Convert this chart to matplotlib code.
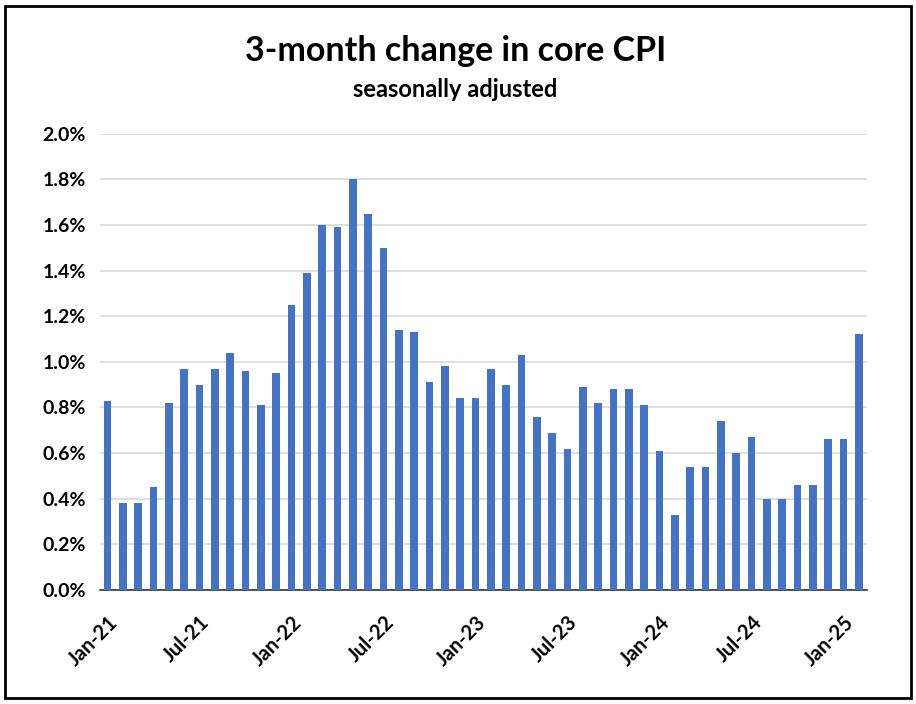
import numpy as np
import matplotlib.pyplot as plt
from matplotlib.patches import Rectangle

# Data: 3-month change in core CPI, Jan-21 .. Feb-25 (percent)
months = ['Jan-21', 'Feb-21', 'Mar-21', 'Apr-21', 'May-21', 'Jun-21', 'Jul-21', 'Aug-21',
          'Sep-21', 'Oct-21', 'Nov-21', 'Dec-21', 'Jan-22', 'Feb-22', 'Mar-22', 'Apr-22',
          'May-22', 'Jun-22', 'Jul-22', 'Aug-22', 'Sep-22', 'Oct-22', 'Nov-22', 'Dec-22',
          'Jan-23', 'Feb-23', 'Mar-23', 'Apr-23', 'May-23', 'Jun-23', 'Jul-23', 'Aug-23',
          'Sep-23', 'Oct-23', 'Nov-23', 'Dec-23', 'Jan-24', 'Feb-24', 'Mar-24', 'Apr-24',
          'May-24', 'Jun-24', 'Jul-24', 'Aug-24', 'Sep-24', 'Oct-24', 'Nov-24', 'Dec-24',
          'Jan-25', 'Feb-25']
values = [0.83, 0.38, 0.38, 0.45, 0.82, 0.97, 0.90, 0.97, 1.04, 0.96, 0.81, 0.95,
          1.25, 1.39, 1.60, 1.59, 1.80, 1.65, 1.50, 1.14, 1.13, 0.91, 0.98, 0.84,
          0.84, 0.97, 0.90, 1.03, 0.76, 0.69, 0.62, 0.89, 0.82, 0.88, 0.88, 0.81,
          0.61, 0.33, 0.54, 0.54, 0.74, 0.60, 0.67, 0.40, 0.40, 0.46, 0.46, 0.66,
          0.66, 1.12]
yticks = [0.0, 0.2, 0.4, 0.6, 0.8, 1.0, 1.2, 1.4, 1.6, 1.8, 2.0]

plt.rcParams['font.family'] = ['Lato', 'DejaVu Sans']

fig = plt.figure(figsize=(9.16, 7.04), dpi=100)
ax = fig.add_axes([0.109, 0.162, 0.837, 0.648])

x = np.arange(len(values))
ax.bar(x, values, width=0.5, color='#4472C4', zorder=3)

ax.set_ylim(0, 2.0)
ax.set_yticks(yticks)
ax.set_yticklabels(['%.1f%%' % v for v in yticks], fontsize=14, fontweight='bold')
ax.set_xlim(-0.5, len(values) - 0.5)

lab_idx = list(range(0, len(values), 6))
ax.set_xticks(lab_idx)
ax.set_xticklabels([months[i] for i in lab_idx], rotation=45, ha='right',
                   rotation_mode='anchor', fontsize=14.5, fontweight='bold')

ax.grid(axis='y', color='#D9D9D9', linewidth=1.2, zorder=0)
ax.tick_params(axis='y', length=0, pad=10)
ax.tick_params(axis='x', length=0, pad=16)
for s in ['top', 'right', 'left']:
    ax.spines[s].set_visible(False)
ax.spines['bottom'].set_color('#333333')
ax.spines['bottom'].set_linewidth(1.2)

fig.text(0.497, 0.927, '3-month change in core CPI', ha='center', va='center',
         fontsize=24.5, fontweight='bold')
fig.text(0.497, 0.873, 'seasonally adjusted', ha='center', va='center',
         fontsize=17, fontweight='bold')

# outer frame
fig.patches.append(Rectangle((0.006, 0.008), 0.988, 0.984, transform=fig.transFigure,
                             fill=False, edgecolor='black', linewidth=2))

fig.savefig('out.png', dpi=100)
